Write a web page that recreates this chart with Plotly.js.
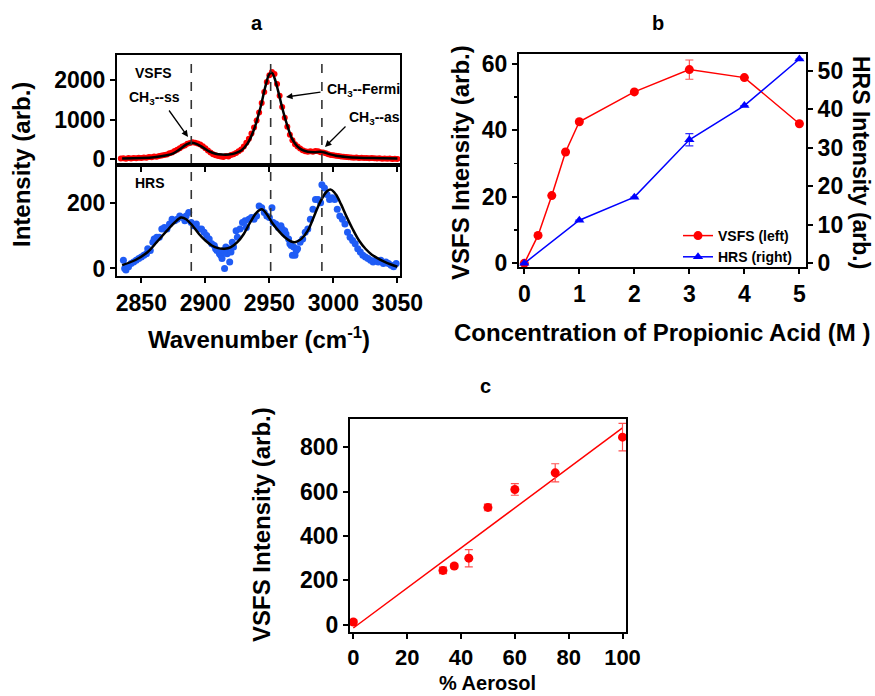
<!DOCTYPE html>
<html>
<head>
<meta charset="utf-8">
<script src="https://cdn.plot.ly/plotly-3.0.1.min.js"></script>
<style>html,body{margin:0;padding:0;background:#fff;}#plot{width:875px;height:696px;}</style>
</head>
<body>
<div id="plot"></div>
<script>
// ---------- Panel a: VSFS spectrum (points) ----------
const vsfsWn = [2834,2836,2838,2840,2842,2844,2846,2848,2850,2852,2854,2856,2858,2860,2862,2864,2866,2868,2870,2872,2874,2876,2878,2880,2882,2884,2886,2888,2890,2892,2894,2896,2898,2900,2902,2904,2906,2908,2910,2912,2914,2916,2918,2920,2922,2924,2926,2928,2930,2932,2934,2936,2938,2940,2942,2944,2946,2948,2950,2952,2954,2956,2958,2960,2962,2964,2966,2968,2970,2972,2974,2976,2978,2980,2982,2984,2986,2988,2990,2992,2994,2996,2998,3000,3002,3004,3006,3008,3010,3012,3014,3016,3018,3020,3022,3024,3026,3028,3030,3032,3034,3036,3038,3040,3042,3044,3046,3048,3050];
const vsfsInt = [20,25,15,30,20,35,25,40,35,45,40,55,50,70,65,85,95,110,120,150,170,210,240,280,320,350,390,410,430,420,400,370,330,280,220,170,130,100,80,70,60,80,70,110,130,160,200,250,320,420,520,650,800,980,1180,1420,1700,1950,2120,2200,2150,1900,1600,1320,1050,820,620,480,380,320,270,230,200,190,200,190,210,200,180,170,150,130,110,100,90,80,70,65,55,50,45,40,45,35,40,30,35,25,30,25,20,25,15,20,15,20,10,15,10];
// VSFS fit curve
const vsfsFitWn = [2835,2850,2860,2870,2875,2880,2885,2889,2893,2898,2903,2908,2913,2918,2923,2928,2933,2938,2943,2947,2950,2952,2954,2957,2960,2964,2968,2972,2976,2980,2985,2990,2993,2997,3002,3010,3020,3030,3050];
const vsfsFit = [20,30,50,100,150,250,370,420,390,300,200,140,120,120,150,220,400,750,1300,1850,2150,2180,2050,1700,1300,850,500,320,230,190,180,190,170,130,90,60,40,30,20];

// ---------- Panel a: HRS spectrum (points) ----------
const hrsWn = [2836,2837,2838,2840,2842,2844,2846,2848,2850,2852,2854,2855,2857,2859,2860,2862,2864,2866,2868,2870,2872,2874,2876,2878,2880,2882,2884,2885,2887,2889,2891,2893,2895,2897,2899,2901,2903,2905,2907,2908,2909,2911,2912,2913,2914,2915,2916,2917,2918,2919,2920,2921,2922,2924,2925,2927,2929,2931,2932,2934,2936,2938,2940,2942,2944,2946,2948,2950,2952,2953,2955,2957,2959,2960,2962,2963,2965,2966,2967,2968,2969,2970,2971,2972,2974,2976,2978,2980,2982,2984,2986,2988,2990,2991,2993,2995,2997,2999,3001,3003,3005,3007,3009,3011,3013,3015,3017,3019,3021,3023,3025,3027,3029,3031,3033,3035,3037,3039,3041,3043,3045,3047,3049];
const hrsInt = [25,0,-5,5,15,20,25,30,35,40,45,60,55,80,90,95,95,120,125,120,135,150,145,150,160,155,145,160,170,140,130,135,120,120,110,100,90,75,70,60,55,45,40,30,55,0,65,45,60,20,50,80,65,115,95,120,140,145,125,150,155,150,160,190,185,170,160,155,185,140,135,125,130,120,115,105,90,75,70,40,65,40,55,60,80,90,110,120,150,180,210,210,200,255,245,225,210,215,210,180,160,150,135,110,95,85,75,60,50,40,35,30,25,20,25,20,25,15,20,15,10,5,15];
// HRS fit curve
const hrsFitWn = [2835,2845,2855,2862,2870,2876,2881,2885,2890,2895,2900,2905,2910,2915,2920,2925,2930,2935,2940,2944,2948,2952,2957,2962,2967,2970,2975,2980,2985,2990,2995,2998,3002,3006,3010,3015,3020,3025,3030,3035,3040,3045,3050];
const hrsFit = [10,25,50,80,115,140,155,150,130,105,85,70,62,60,65,80,105,140,170,180,165,140,115,95,82,80,90,115,160,205,235,240,225,195,160,120,85,60,42,30,20,12,5];
// vibrational modes (dashed lines)
const modeWn = [2889, 2951, 2991];
const aTicks = [2850, 2900, 2950, 3000, 3050];

// ---------- Panel b ----------
const concVSFS = [0, 0.25, 0.5, 0.75, 1, 2, 3, 4, 5];
const vsfsConcInt = [0, 8.4, 20.4, 33.5, 42.6, 51.6, 58.3, 55.9, 42.0];
const vsfsConcErr = [null, null, null, null, null, null, 2.9, null, null];
const concHRS = [0, 1, 2, 3, 4, 5];
const hrsConcInt = [0, 11.2, 17.2, 32.1, 41.0, 53.1];
const hrsConcErr = [null, null, null, 1.6, null, null];

// ---------- Panel c ----------
const aerosolPct = [0, 33.3, 37.5, 42.9, 50, 60, 75, 100];
const aerosolInt = [12, 245, 265, 300, 529, 610, 685, 846];
const aerosolErr = [10, 15, 10, 39, 15, 26, 41, 62];
const fitPct = [0, 100];
const fitInt = [-15, 888];

// ---------- helpers ----------
const W = 875, H = 696;
const px = x => x / W;
const py = y => 1 - y / H;
const F = 'Liberation Sans, Arial, sans-serif';
const tf = (s) => ({family: F, size: s, weight: 'bold', color: 'black'});

function ax(extra) {
  return Object.assign({
    showline: true, linewidth: 2, linecolor: 'black', mirror: true,
    ticks: 'outside', ticklen: 5, tickwidth: 2, tickcolor: 'black',
    showgrid: false, zeroline: false, tickfont: tf(23), fixedrange: true
  }, extra);
}

const traces = [
  {x: vsfsWn, y: vsfsInt, xaxis: 'x', yaxis: 'y', type: 'scatter', mode: 'markers',
   marker: {color: '#ff0000', size: 6}, showlegend: false},
  {x: vsfsFitWn, y: vsfsFit, xaxis: 'x', yaxis: 'y', type: 'scatter', mode: 'lines',
   line: {color: 'black', width: 2.5, shape: 'spline', smoothing: 1}, showlegend: false},
  {x: hrsWn, y: hrsInt, xaxis: 'x2', yaxis: 'y2', type: 'scatter', mode: 'markers',
   marker: {color: '#1f5cf5', size: 7}, showlegend: false},
  {x: hrsFitWn, y: hrsFit, xaxis: 'x2', yaxis: 'y2', type: 'scatter', mode: 'lines',
   line: {color: 'black', width: 2.5, shape: 'spline', smoothing: 1}, showlegend: false},
  {x: concVSFS, y: vsfsConcInt, xaxis: 'x3', yaxis: 'y3', type: 'scatter', mode: 'lines+markers',
   name: 'VSFS (left)', line: {color: '#ff0000', width: 1.5}, marker: {color: '#ff0000', size: 9, symbol: 'circle'},
   error_y: {type: 'data', array: vsfsConcErr, visible: true, color: '#ff5050', thickness: 1.2, width: 4}},
  {x: concHRS, y: hrsConcInt, xaxis: 'x3', yaxis: 'y4', type: 'scatter', mode: 'lines+markers',
   name: 'HRS (right)', line: {color: '#0000ff', width: 1.5}, marker: {color: '#0000ff', size: 9, symbol: 'triangle-up'},
   error_y: {type: 'data', array: hrsConcErr, visible: true, color: '#3030ff', thickness: 1.2, width: 4}},
  {x: fitPct, y: fitInt, xaxis: 'x4', yaxis: 'y5', type: 'scatter', mode: 'lines',
   line: {color: '#ff0000', width: 1.5}, showlegend: false},
  {x: aerosolPct, y: aerosolInt, xaxis: 'x4', yaxis: 'y5', type: 'scatter', mode: 'markers',
   marker: {color: '#ff0000', size: 9}, showlegend: false,
   error_y: {type: 'data', array: aerosolErr, visible: true, color: '#ff5050', thickness: 1.2, width: 4}}
];

const aXdom = [px(117), px(400)];
const shapes = modeWn.map(w => ({
  type: 'line', xref: 'x', yref: 'paper', x0: w, x1: w, y0: py(271), y1: py(55),
  line: {color: '#333333', width: 1.6, dash: 'dash'}, layer: 'above'
}));

const ann = (x, y, text, size, extra) => Object.assign({
  xref: 'paper', yref: 'paper', x: px(x), y: py(y), text: text, showarrow: false,
  font: tf(size), xanchor: 'center', yanchor: 'middle'
}, extra || {});

const arrow = (tx, ty, ax_, ay_) => ({
  xref: 'paper', yref: 'paper', x: px(tx), y: py(ty), ax: ax_, ay: ay_, text: '',
  showarrow: true, arrowhead: 2, arrowsize: 1, arrowwidth: 1.3, arrowcolor: 'black', standoff: 0
});

const annotations = [
  ann(257, 23, 'a', 20), ann(658, 23, 'b', 20), ann(485, 386, 'c', 20),
  ann(22, 165, 'Intensity (arb.)', 24, {textangle: -90}),
  ann(259, 338, 'Wavenumber (cm<sup>-1</sup>)', 24),
  ann(153, 73, 'VSFS', 14),
  ann(154, 98, 'CH<sub>3</sub>--ss', 14),
  ann(325, 90, 'CH<sub>3</sub>--Fermi', 14, {xanchor: 'left'}),
  ann(347, 118, 'CH<sub>3</sub>--as', 14, {xanchor: 'left'}),
  ann(150, 183, 'HRS', 14),
  arrow(188, 137, -20, -28),
  arrow(286, 97, 36, -5),
  arrow(325, 147, 22, -22),
  ann(662, 332, 'Concentration of Propionic Acid (M )', 24),
  ann(461, 162, 'VSFS Intensity (arb.)', 24, {textangle: -90}),
  ann(861, 162, 'HRS Intensity (arb.)', 23, {textangle: 90}),
  ann(261, 525, 'VSFS Intensity (arb.)', 24, {textangle: -90}),
  ann(487, 683, '% Aerosol', 20)
];

const layout = {
  width: W, height: H,
  margin: {l: 0, r: 0, t: 0, b: 0, pad: 0},
  paper_bgcolor: 'white', plot_bgcolor: 'white',
  font: {family: F, color: 'black'},
  xaxis: ax({domain: aXdom, anchor: 'y', range: [2831, 3052], tickvals: aTicks, showticklabels: false}),
  yaxis: ax({domain: [py(165), py(55)], anchor: 'x', range: [-144, 2630], tickvals: [0, 1000, 2000]}),
  xaxis2: ax({domain: aXdom, anchor: 'y2', range: [2831, 3052], tickvals: aTicks}),
  yaxis2: ax({domain: [py(276), py(165)], anchor: 'x2', range: [-23, 315], tickvals: [0, 200]}),
  xaxis3: ax({domain: [px(519), px(806)], anchor: 'y3', range: [-0.096, 5.12], tickvals: [0, 1, 2, 3, 4, 5]}),
  yaxis3: ax({domain: [py(267), py(54)], anchor: 'x3', range: [-1.1, 63], tick0: 0, dtick: 20,
    minor: {dtick: 10, ticks: 'outside', ticklen: 3, tickwidth: 1.5, tickcolor: 'black'}}),
  yaxis4: ax({overlaying: 'y3', anchor: 'x3', side: 'right', mirror: false, range: [-0.96, 54.4], tick0: 0, dtick: 10}),
  xaxis4: ax({domain: [px(350), px(626)], anchor: 'y5', range: [-1.24, 101.3], tick0: 0, dtick: 20, tickfont: tf(22)}),
  yaxis5: ax({domain: [py(632), py(419)], anchor: 'x4', range: [-33, 928], tick0: 0, dtick: 200}),
  showlegend: true,
  legend: {x: px(678), y: py(220), xanchor: 'left', yanchor: 'top', bgcolor: 'rgba(0,0,0,0)',
    font: tf(14), itemwidth: 30, tracegroupgap: 0},
  shapes: shapes,
  annotations: annotations
};

Plotly.newPlot('plot', traces, layout, {displayModeBar: false, staticPlot: true});
</script>
</body>
</html>
